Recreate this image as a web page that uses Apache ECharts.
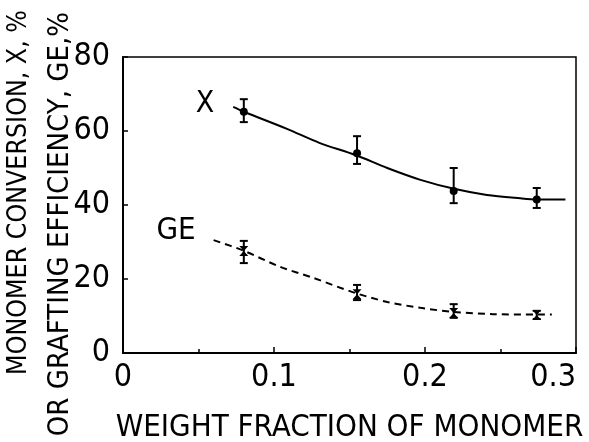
<!DOCTYPE html>
<html>
<head>
<meta charset="utf-8">
<script src="https://cdn.jsdelivr.net/npm/echarts@6/dist/echarts.min.js"></script>
<style>
  html, body { margin: 0; padding: 0; background: #fff; }
  #chartBox { width: 589px; height: 442px; }
</style>
</head>
<body>
<div id="chartBox"></div>
<script>
// measured points (weight fraction of monomer)
const fraction = [0.080, 0.155, 0.219, 0.274];
// monomer conversion X, %
const conversion = [65.2, 54.0, 43.8, 41.5];
const conversionLow = [62.4, 51.1, 40.5, 39.2];
const conversionHigh = [68.6, 58.6, 50.0, 44.6];
// grafting efficiency GE, %
const efficiency = [27.6, 15.9, 10.8, 10.3];
const efficiencyLow = [24.3, 14.3, 9.5, 9.2];
const efficiencyHigh = [30.3, 18.4, 13.2, 11.4];
// drawn curves
const conversionFitX = [0.073, 0.080, 0.109, 0.130, 0.154, 0.175, 0.197, 0.220, 0.241, 0.263, 0.274, 0.293];
const conversionFitY = [66.5, 65.2, 60.5, 56.8, 53.5, 50.0, 46.8, 44.3, 42.7, 41.8, 41.5, 41.5];
const efficiencyFitX = [0.060, 0.079, 0.104, 0.126, 0.154, 0.175, 0.197, 0.219, 0.245, 0.274, 0.284];
const efficiencyFitY = [30.5, 27.8, 23.3, 20.3, 16.2, 13.8, 12.2, 11.1, 10.5, 10.4, 10.4];

const font = '"DejaVu Sans Condensed", "DejaVu Sans", sans-serif';
const tickFont = '"Liberation Sans Narrow", "DejaVu Sans Condensed", sans-serif';

function zip(a, b) {
	return a.map((v, i) => [v, b[i]]);
}

//误差线
function errorBars(params, api) {
	let x = api.value(0);
	let lo = api.coord([x, api.value(1)]);
	let hi = api.coord([x, api.value(2)]);
	let w = 4;
	let style = { stroke: '#000', lineWidth: 2 };
	return {
		type: 'group',
		children: [
			{ type: 'line', shape: { x1: lo[0], y1: lo[1], x2: hi[0], y2: hi[1] }, style: style },
			{ type: 'line', shape: { x1: lo[0] - w, y1: lo[1], x2: lo[0] + w, y2: lo[1] }, style: style },
			{ type: 'line', shape: { x1: hi[0] - w, y1: hi[1], x2: hi[0] + w, y2: hi[1] }, style: style }
		]
	};
}

let myChart = echarts.init(document.getElementById('chartBox'));
let option = {
	backgroundColor: '#fff',
	animation: false,
	grid: {
		left: 123, right: 13, top: 57, bottom: 89,
		outerBoundsMode: 'none', containLabel: false,
		show: true, borderColor: '#000', borderWidth: 1.5
	},
	xAxis: {
		type: 'value', min: 0, max: 0.3, interval: 0.1,
		axisLine: { show: true, lineStyle: { color: '#000', width: 2 } },
		axisTick: { inside: true, length: 6, lineStyle: { color: '#000', width: 1.5 } },
		minorTick: { show: true, splitNumber: 2, length: 4, lineStyle: { color: '#000', width: 1.5 } },
		splitLine: { show: false },
		axisLabel: {
			color: '#000', fontSize: 32, fontFamily: tickFont, margin: 9,
			alignMaxLabel: 'right',
			formatter: v => v === 0 ? '0' : v.toFixed(1)
		},
		name: 'WEIGHT FRACTION OF MONOMER',
		nameLocation: 'middle', nameGap: 59,
		nameTextStyle: { color: '#000', fontSize: 31, fontFamily: font }
	},
	yAxis: {
		type: 'value', min: 0, max: 80, interval: 20,
		axisLine: { show: true, lineStyle: { color: '#000', width: 2 } },
		axisTick: { inside: true, length: 5, lineStyle: { color: '#000', width: 1.5 } },
		splitLine: { show: false },
		axisLabel: { color: '#000', fontSize: 32, fontFamily: tickFont, margin: 13 }
	},
	graphic: [
		{ type: 'text', x: 19, y: 10, rotation: Math.PI / 2,
		  style: { text: 'MONOMER CONVERSION, X, %', fill: '#000', font: '26.5px ' + font, align: 'right', verticalAlign: 'middle' } },
		{ type: 'text', x: 60, y: 12, rotation: Math.PI / 2,
		  style: { text: 'OR GRAFTING EFFICIENCY, GE,%', fill: '#000', font: '29px ' + font, align: 'right', verticalAlign: 'middle' } },
		{ type: 'text', x: 205, y: 104,
		  style: { text: 'X', fill: '#000', font: '30px ' + font, align: 'center', verticalAlign: 'middle' } },
		{ type: 'text', x: 176, y: 231,
		  style: { text: 'GE', fill: '#000', font: '31px ' + font, align: 'center', verticalAlign: 'middle' } }
	],
	series: [
		{
			type: 'line', data: zip(conversionFitX, conversionFitY), smooth: 0.3,
			showSymbol: false, lineStyle: { color: '#000', width: 2 }
		},
		{
			type: 'line', data: zip(efficiencyFitX, efficiencyFitY), smooth: 0.3,
			showSymbol: false, lineStyle: { color: '#000', width: 2, type: [7, 5] }
		},
		{
			type: 'custom', renderItem: errorBars,
			data: fraction.map((x, i) => [x, conversionLow[i], conversionHigh[i]]), z: 3
		},
		{
			type: 'custom', renderItem: errorBars,
			data: fraction.map((x, i) => [x, efficiencyLow[i], efficiencyHigh[i]]), z: 3
		},
		{
			type: 'scatter', data: zip(fraction, conversion), symbol: 'circle', symbolSize: 8,
			itemStyle: { color: '#000', opacity: 1 }, z: 4
		},
		{
			type: 'scatter', data: zip(fraction, efficiency),
			symbol: 'path://M0,0L10,0L5,5L10,10L0,10L5,5Z', symbolSize: [9, 10],
			itemStyle: { color: '#000', opacity: 1 }, z: 4
		}
	]
};
myChart.setOption(option, true);
</script>
</body>
</html>
